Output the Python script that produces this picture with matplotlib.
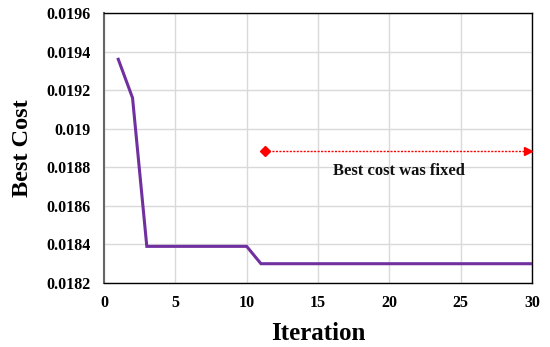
import matplotlib
matplotlib.use("Agg")
import matplotlib.pyplot as plt

iterations = list(range(1, 31))
best_cost = [0.01936, 0.01916] + [0.01839] * 8 + [0.01830] * 20
x_ticks = [0, 5, 10, 15, 20, 25, 30]
y_ticks = [0.0182, 0.0184, 0.0186, 0.0188, 0.019, 0.0192, 0.0194, 0.0196]
y_tick_labels = ["0.0182", "0.0184", "0.0186", "0.0188", "0.019", "0.0192", "0.0194", "0.0196"]
annot_start = 11.3
annot_end = 30
annot_y = 0.018886
annot_text = "Best cost was fixed"

plt.rcParams['font.family'] = ['Liberation Serif', 'DejaVu Serif']

fig = plt.figure(figsize=(5.5, 3.47), dpi=100)
ax = fig.add_axes([104/550, 1-283/347, (532-104)/550, (283-13)/347])

ax.plot(iterations, best_cost, color='#7030A0', lw=2.2, solid_joinstyle='miter', zorder=3)

ax.plot([annot_start, annot_end], [annot_y, annot_y], color='red', ls=(0, (1.5, 1)), lw=1, zorder=3)
ax.plot([annot_start], [annot_y], marker='D', color='red', ms=5, zorder=4, clip_on=False)
ax.plot([annot_end - 0.3], [annot_y], marker='>', color='red', ms=6, zorder=4, clip_on=False)
ax.text(20.7, 0.018783, annot_text, ha='center', va='center', fontsize=12, fontweight='bold', color='#111111')

ax.set_xlim(0, 30)
ax.set_ylim(0.0182, 0.0196)
ax.set_xticks(x_ticks)
ax.set_yticks(y_ticks)
ax.set_yticklabels(y_tick_labels)
ax.grid(True, color='#d9d9d9', lw=1)
ax.set_axisbelow(True)
ax.tick_params(axis='y', length=0, labelsize=11.5, pad=9.5)
ax.tick_params(axis='x', length=0, labelsize=11.5, pad=8.5)
for lab in ax.get_xticklabels() + ax.get_yticklabels():
    lab.set_fontweight('bold')
for s in ax.spines.values():
    s.set_color('black')
    s.set_linewidth(1)
ax.spines['left'].set_color('#666666')
ax.spines['left'].set_linewidth(1.5)

ax.set_xlabel("Iteration", fontsize=18, fontweight='bold', labelpad=8)
ax.set_ylabel("Best Cost", fontsize=17.5, fontweight='bold', labelpad=10)

fig.savefig("out.png", dpi=100)
